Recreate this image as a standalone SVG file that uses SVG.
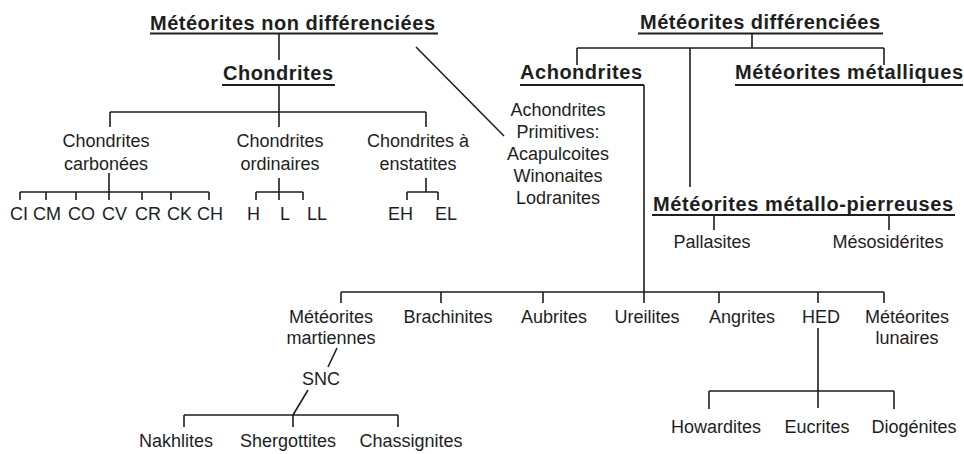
<svg xmlns="http://www.w3.org/2000/svg" width="964" height="454" viewBox="0 0 964 454">
<style>
  text { font-family: "Liberation Sans", Arial, sans-serif; fill: #1e1e1e; }
  .n { font-size: 18px; text-anchor: middle; }
  .s { font-size: 18px; }
  .b { font-size: 20px; font-weight: bold; }
  .c line, .c path, .u { stroke: #1e1e1e; stroke-width: 1.6; fill: none; }
  .u { stroke-width: 2; }
</style>
<rect width="964" height="454" fill="#ffffff"/>
<g id="connectors" class="c">
  <path d="M279 34V60"/>
  <path d="M279 86V127M110 112H426M110 112V127M426 112V127"/>
  <path d="M416 47L504 136"/>
  <path d="M752 34V48M577 48H884M577 48V65M884 48V65M690 48V187"/>
  <path d="M644 85V303M341 292H884M341 292V303M441 292V303M543 292V303M719 292V303M818 292V303M884 292V303"/>
  <path d="M714 215V230M889 215V230"/>
  <path d="M109 173V192M20 192H209M20 192V200M46 192V200M76 192V200M109 192V200M142 192V200M171 192V200M209 192V200"/>
  <path d="M279 178V192M256 192H303M256 192V200M279 192V200M303 192V200"/>
  <path d="M426 178V192M407 192H438M407 192V200M438 192V200"/>
  <path d="M337 348L328 367"/>
  <path d="M308 390L293 415M184 415H398M184 415V427M293 415V427M398 415V427"/>
  <path d="M818 328V408M709 391H894M709 391V409M894 391V409"/>
</g>
<g id="meteorites-non-differenciees">
  <text class="b" x="150" y="30" textLength="285">Météorites non différenciées</text>
  <line class="u" x1="150" y1="33.5" x2="438" y2="33.5"/>
</g>
<g id="chondrites">
  <text class="b" x="223" y="80" textLength="110">Chondrites</text>
  <line class="u" x1="222" y1="85" x2="335" y2="85"/>
</g>
<g id="meteorites-differenciees">
  <text class="b" x="640" y="29" textLength="240">Météorites différenciées</text>
  <line class="u" x1="638" y1="33.5" x2="883" y2="33.5"/>
</g>
<g id="achondrites">
  <text class="b" x="520" y="79" textLength="122">Achondrites</text>
  <line class="u" x1="520" y1="85" x2="644" y2="85"/>
</g>
<g id="meteorites-metalliques">
  <text class="b" x="735" y="79" textLength="228">Météorites métalliques</text>
  <line class="u" x1="735" y1="85" x2="963" y2="85"/>
</g>
<g id="meteorites-metallo-pierreuses">
  <text class="b" x="653" y="211" textLength="300">Météorites métallo-pierreuses</text>
  <line class="u" x1="652" y1="215" x2="955" y2="215"/>
</g>
<g id="achondrites-primitives">
  <text class="n" x="558" y="116">Achondrites</text>
  <text class="n" x="558" y="138">Primitives:</text>
  <text class="n" x="558" y="160">Acapulcoites</text>
  <text class="n" x="558" y="182">Winonaites</text>
  <text class="n" x="558" y="204">Lodranites</text>
</g>
<g id="chondrites-carbonees">
  <text class="n" x="106" y="147">Chondrites</text>
  <text class="n" x="106" y="170">carbonées</text>
</g>
<g id="chondrites-ordinaires">
  <text class="n" x="280" y="147">Chondrites</text>
  <text class="n" x="280" y="170">ordinaires</text>
</g>
<g id="chondrites-enstatites">
  <text class="n" x="418" y="147">Chondrites à</text>
  <text class="n" x="418" y="170">enstatites</text>
</g>
<g id="ci"><text class="s" x="10" y="220">CI</text></g>
<g id="cm"><text class="s" x="33" y="220">CM</text></g>
<g id="co"><text class="s" x="68" y="220">CO</text></g>
<g id="cv"><text class="s" x="102" y="220">CV</text></g>
<g id="cr"><text class="s" x="135" y="220">CR</text></g>
<g id="ck"><text class="s" x="167" y="220">CK</text></g>
<g id="ch"><text class="s" x="197" y="220">CH</text></g>
<g id="h"><text class="s" x="247" y="220">H</text></g>
<g id="l"><text class="s" x="280" y="220">L</text></g>
<g id="ll"><text class="s" x="307" y="220">LL</text></g>
<g id="eh"><text class="s" x="388" y="220">EH</text></g>
<g id="el"><text class="s" x="435" y="220">EL</text></g>
<g id="pallasites"><text class="n" x="712" y="248">Pallasites</text></g>
<g id="mesosiderites"><text class="n" x="888" y="248">Mésosidérites</text></g>
<g id="meteorites-martiennes">
  <text class="n" x="331" y="323">Météorites</text>
  <text class="n" x="331" y="344">martiennes</text>
</g>
<g id="brachinites"><text class="n" x="448" y="323">Brachinites</text></g>
<g id="aubrites"><text class="n" x="554" y="323">Aubrites</text></g>
<g id="ureilites"><text class="n" x="647" y="323">Ureilites</text></g>
<g id="angrites"><text class="n" x="742" y="323">Angrites</text></g>
<g id="hed"><text class="n" x="821" y="323">HED</text></g>
<g id="meteorites-lunaires">
  <text class="n" x="907" y="323">Météorites</text>
  <text class="n" x="907" y="344">lunaires</text>
</g>
<g id="snc"><text class="n" x="321" y="385">SNC</text></g>
<g id="nakhlites"><text class="n" x="176" y="447">Nakhlites</text></g>
<g id="shergottites"><text class="n" x="288" y="447">Shergottites</text></g>
<g id="chassignites"><text class="n" x="411" y="447">Chassignites</text></g>
<g id="howardites"><text class="n" x="716" y="433">Howardites</text></g>
<g id="eucrites"><text class="n" x="817" y="433">Eucrites</text></g>
<g id="diogenites"><text class="n" x="914" y="433">Diogénites</text></g>
</svg>
